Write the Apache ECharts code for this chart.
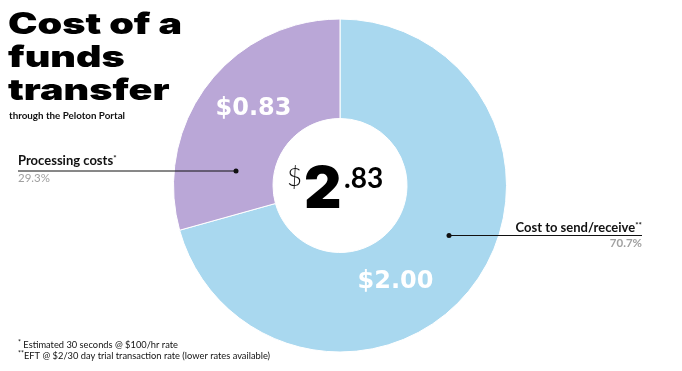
<!DOCTYPE html>
<html><head><meta charset="utf-8">
<script src="https://cdn.jsdelivr.net/npm/echarts@6/dist/echarts.min.js"></script>
<style>html,body{margin:0;padding:0;background:#fff}#c{width:682px;height:371px}</style>
</head><body><div id="c"></div>
<script>
const categories = ['Cost to send/receive', 'Processing costs'];
const values = [2.00, 0.83];
const superscripts = ['**', '*'];
const colors = ['#a9d8ef', '#baa7d7'];
const titleLines = ['Cost of a', 'funds', 'transfer'];
const subtitle = 'through the Peloton Portal';
const footnoteMarks = ['*', '**'];
const footnotes = ['Estimated 30 seconds @ $100/hr rate', 'EFT @ $2/30 day trial transaction rate (lower rates available)'];

const total = values.reduce((a, b) => a + b, 0);
const pct = values.map(v => (v / total * 100).toFixed(1) + '%');
const totalStr = total.toFixed(2);
const whole = totalStr.split('.')[0];
const cents = '.' + totalStr.split('.')[1];

const chart = echarts.init(document.getElementById('c'));
const bodyFont = 'Lato, "Open Sans", sans-serif';
const txt = (x, y, text, font, fill, align, extra) => Object.assign({
  type: 'text', x, y, z: 100,
  style: { text, font, fill: fill || '#111', textAlign: align || 'left', textVerticalAlign: 'middle' }
}, extra || {});
const supTxt = (x, y, main, sup, size, weight, align) => ({
  type: 'text', x, y, z: 100,
  style: {
    text: '{m|' + main + '}{s|' + sup + '}',
    textAlign: align, textVerticalAlign: 'middle',
    rich: {
      m: { fontFamily: bodyFont, fontSize: size, fontWeight: weight, fill: '#111', lineHeight: size + 3 },
      s: { fontFamily: bodyFont, fontSize: Math.round(size * 0.62), fontWeight: weight, fill: '#111', verticalAlign: 'top', lineHeight: size + 3, padding: [2, 0, 0, 0] }
    }
  }
});

const graphics = [];
titleLines.forEach((t, i) => graphics.push(txt(8, 25.5 + i * 33, t, '900 29.5px Inter, Lato, sans-serif', '#000', 'left', { scaleX: 1.34 })));
graphics.push(txt(9, 115.5, subtitle, 'bold 9.8px ' + bodyFont, '#111'));
// annotations
graphics.push(supTxt(18, 160.5, categories[1], superscripts[1], 13, 'bold', 'left'));
graphics.push(txt(18, 178, pct[1], '11.5px ' + bodyFont, '#a0a0a0'));
graphics.push({ type: 'line', z: 100, shape: { x1: 18, y1: 171, x2: 236, y2: 171 }, style: { stroke: '#111', lineWidth: 1 } });
graphics.push({ type: 'circle', z: 100, shape: { cx: 236, cy: 171, r: 2.5 }, style: { fill: '#111' } });

graphics.push(supTxt(642, 227.5, categories[0], superscripts[0], 13, 'bold', 'right'));
graphics.push(txt(642, 243.5, pct[0], 'bold 11.5px ' + bodyFont, '#a0a0a0', 'right'));
graphics.push({ type: 'line', z: 100, shape: { x1: 449, y1: 235.5, x2: 642, y2: 235.5 }, style: { stroke: '#111', lineWidth: 1 } });
graphics.push({ type: 'circle', z: 100, shape: { cx: 449, cy: 235.5, r: 2.5 }, style: { fill: '#111' } });

// slice value labels
graphics.push(txt(253.5, 109, '$' + values[1].toFixed(2), 'bold 24px "DejaVu Sans", sans-serif', '#fff', 'center'));
graphics.push(txt(395.5, 282, '$' + values[0].toFixed(2), 'bold 24px "DejaVu Sans", sans-serif', '#fff', 'center'));

// center total
graphics.push(txt(287, 177.5, '$', '300 26px ' + bodyFont, '#111'));
graphics.push(txt(304, 190.5, whole, '900 58px Inter, Lato, sans-serif', '#000'));
graphics.push(txt(344, 178.5, cents, 'bold 28px ' + bodyFont, '#000'));

footnotes.forEach((f, i) => graphics.push({
  type: 'text', x: 18, y: 345 + i * 11, z: 100,
  style: {
    text: '{s|' + footnoteMarks[i] + '}{m|' + (i === 0 ? ' ' : '') + f + '}',
    textAlign: 'left', textVerticalAlign: 'middle',
    rich: {
      m: { fontFamily: bodyFont, fontSize: 9.3, fill: '#111', lineHeight: 11 },
      s: { fontFamily: bodyFont, fontSize: 7, fill: '#111', verticalAlign: 'top', lineHeight: 11 }
    }
  }
}));

chart.setOption({
  animation: false,
  graphic: graphics,
  series: [{
    type: 'pie',
    center: [340, 185.5],
    radius: [67, 166.5],
    startAngle: 90,
    clockwise: true,
    label: { show: false },
    labelLine: { show: false },
    itemStyle: { borderColor: '#fff', borderWidth: 1 },
    emphasis: { disabled: true },
    data: categories.map((c, i) => ({ name: c, value: values[i], itemStyle: { color: colors[i] } }))
  }]
});
</script></body></html>
